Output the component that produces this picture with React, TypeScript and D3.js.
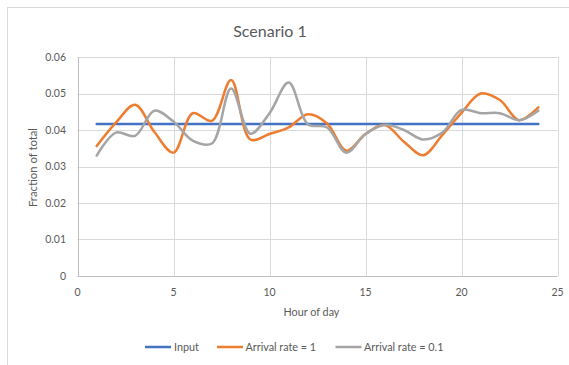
import React from "react";
import * as d3 from "d3";

const hours = [1, 2, 3, 4, 5, 6, 7, 8, 9, 10, 11, 12, 13, 14, 15, 16, 17, 18, 19, 20, 21, 22, 23, 24];
const inputValues = [
  0.04167, 0.04167, 0.04167, 0.04167, 0.04167, 0.04167, 0.04167, 0.04167, 0.04167, 0.04167, 0.04167, 0.04167,
  0.04167, 0.04167, 0.04167, 0.04167, 0.04167, 0.04167, 0.04167, 0.04167, 0.04167, 0.04167, 0.04167, 0.04167,
];
const rate1Values = [
  0.0356, 0.042, 0.0469, 0.0395, 0.0338, 0.0446, 0.0425, 0.0537, 0.0374, 0.0389, 0.0407, 0.0443,
  0.0418, 0.0343, 0.0389, 0.0414, 0.0368, 0.0331, 0.0386, 0.0447, 0.05, 0.0482, 0.0427, 0.0462,
];
const rate01Values = [
  0.033, 0.0393, 0.0384, 0.0453, 0.0423, 0.0371, 0.0363, 0.0514, 0.039, 0.0446, 0.053, 0.0416,
  0.0407, 0.0338, 0.0389, 0.0414, 0.04, 0.0374, 0.0393, 0.0455, 0.0446, 0.0446, 0.0427, 0.0453,
];
const xTicks = [0, 5, 10, 15, 20, 25];
const yTicks = [0, 0.01, 0.02, 0.03, 0.04, 0.05, 0.06];
const seriesNames = ["Input", "Arrival rate = 1", "Arrival rate = 0.1"];
const seriesColors = ["#4472C4", "#ED7D31", "#A5A5A5"];

const FONT = "Lato, 'Open Sans', sans-serif";
const TEXT = "#595959";

export default function App() {
  const W = 569, H = 365;
  const m = { left: 77.5, right: 557.5, top: 57, bottom: 276 };
  const x = d3.scaleLinear().domain([0, 25]).range([m.left, m.right]);
  const y = d3.scaleLinear().domain([0, 0.06]).range([m.bottom, m.top]);

  const allSeries = [inputValues, rate1Values, rate01Values];
  const line = d3
    .line<number>()
    .x((_, i) => x(hours[i]))
    .y((d) => y(d))
    .curve(d3.curveCatmullRom.alpha(0.5));

  const legendItems = [
    { lx: 145, tx: 174 },
    { lx: 217, tx: 245.5 },
    { lx: 335.5, tx: 364 },
  ];

  return (
    <svg width={W} height={H} style={{ position: "absolute", left: 0, top: 0, background: "#fff" }} fontFamily={FONT}>
      <rect x={7.5} y={7.5} width={W + 10} height={H + 10} fill="#fff" stroke="#d9d9d9" />
      <text x={270} y={37} textAnchor="middle" fontSize={16} fill={TEXT}>
        Scenario 1
      </text>
      {yTicks.map((t) => (
        <g key={"y" + t}>
          <line x1={m.left} x2={m.right} y1={Math.round(y(t)) + 0.5} y2={Math.round(y(t)) + 0.5} stroke={t === 0 ? "#bfbfbf" : "#d9d9d9"} />
          <text x={66} y={y(t)} dy="0.35em" textAnchor="end" fontSize={10.5} fill={TEXT}>
            {t === 0 ? "0" : d3.format(".2f")(t)}
          </text>
        </g>
      ))}
      {xTicks.map((t) => (
        <g key={"x" + t}>
          <line x1={Math.round(x(t)) + 0.5} x2={Math.round(x(t)) + 0.5} y1={m.top} y2={m.bottom} stroke={t === 0 ? "#bfbfbf" : "#d9d9d9"} />
          <text x={x(t)} y={292} dy="0.35em" textAnchor="middle" fontSize={10.5} fill={TEXT}>
            {t}
          </text>
        </g>
      ))}
      <text x={(m.left + m.right) / 2 - 6} y={312} dy="0.35em" textAnchor="middle" fontSize={10.8} fill={TEXT}>
        Hour of day
      </text>
      <text transform={`translate(33,${(m.top + m.bottom) / 2 + 1}) rotate(-90)`} dy="0.35em" textAnchor="middle" fontSize={11.3} fill={TEXT}>
        Fraction of total
      </text>
      {allSeries.map((s, i) => (
        <path key={"s" + i} d={line(s) || ""} fill="none" stroke={seriesColors[i]} strokeWidth={2.5} strokeLinecap="round" strokeLinejoin="round" />
      ))}
      {seriesNames.map((n, i) => (
        <g key={"l" + i}>
          <line x1={legendItems[i].lx} x2={legendItems[i].lx + 26} y1={347} y2={347} stroke={seriesColors[i]} strokeWidth={2.5} />
          <text x={legendItems[i].tx} y={347} dy="0.35em" fontSize={10.8} fill={TEXT}>
            {n}
          </text>
        </g>
      ))}
    </svg>
  );
}
